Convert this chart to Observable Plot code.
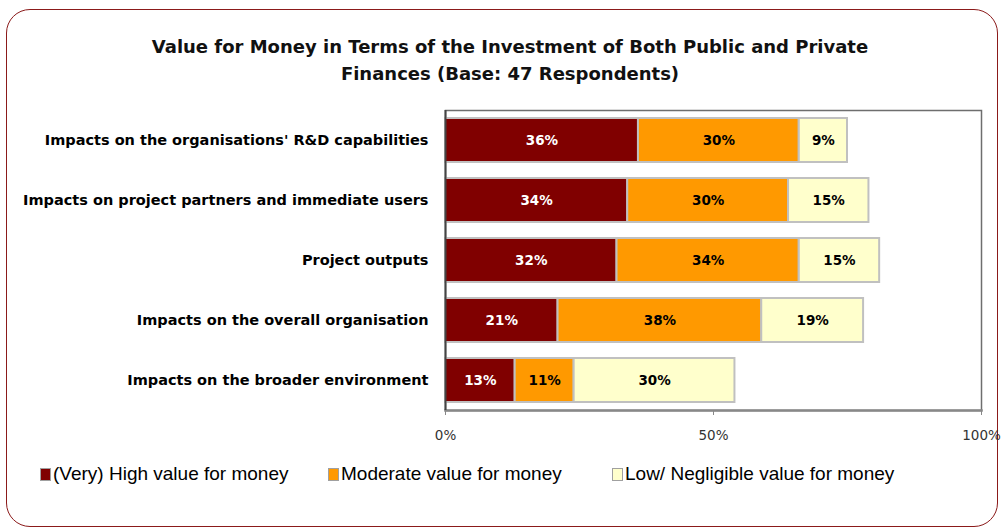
<!DOCTYPE html>
<html>
<head>
<meta charset="utf-8">
<script src="https://cdn.jsdelivr.net/npm/d3@7"></script>
<script src="https://cdn.jsdelivr.net/npm/@observablehq/plot@0.6"></script>
<style>
  body { margin: 0; background: #fff; }
  #wrap { position: relative; width: 1003px; height: 532px; overflow: hidden; font-family: "DejaVu Sans", sans-serif; }
  #border { position: absolute; left: 6px; top: 9px; width: 992px; height: 518px; border: 1.5px solid #8B1A1A; border-radius: 24px; box-sizing: border-box; }
  #title { position: absolute; left: 0; width: 1020px; top: 33px; text-align: center; font-weight: bold; font-size: 18px; line-height: 27px; color: #111; }
  #chart { position: absolute; left: 0; top: 0; }
  #legend { position: absolute; top: 463px; left: 0; width: 1003px; height: 24px; font-family: "Liberation Sans", Arial, sans-serif; font-size: 19px; color: #000; }
  .item { position: absolute; top: 0; display: flex; align-items: center; }
  .sw { width: 9px; height: 11px; border: 1.5px solid #a0a0a0; margin-right: 2px; }
</style>
</head>
<body>
<div id="wrap">
  <div id="border"></div>
  <div id="title">Value for Money in Terms of the Investment of Both Public and Private<br>Finances (Base: 47 Respondents)</div>
  <div id="chart"></div>
  <div id="legend"></div>
</div>
<script>
const categories = [
  "Impacts on the organisations' R&D capabilities",
  "Impacts on project partners and immediate users",
  "Project outputs",
  "Impacts on the overall organisation",
  "Impacts on the broader environment"
];
const seriesNames = ["(Very) High value for money", "Moderate value for money", "Low/ Negligible value for money"];
const seriesColors = ["#800000", "#FF9900", "#FFFFCC"];
const labelColors = ["#ffffff", "#000000", "#000000"];
const high = [36, 34, 32, 21, 13];
const moderate = [30, 30, 34, 38, 11];
const low = [9, 15, 15, 19, 30];
const xTicks = [0, 50, 100];
const xTickLabels = ["0%", "50%", "100%"];

const series = [high, moderate, low];
const data = [];
categories.forEach((c, i) => {
  series.forEach((s, j) => {
    data.push({cat: c, series: seriesNames[j], order: j, value: s[i]});
  });
});

const chart = Plot.plot({
  width: 1003,
  height: 532,
  marginLeft: 445,
  marginRight: 22,
  marginTop: 110,
  marginBottom: 122,
  style: {background: "transparent", fontFamily: "DejaVu Sans, sans-serif"},
  x: {domain: [0, 100], ticks: xTicks, tickFormat: (d) => xTickLabels[xTicks.indexOf(d)]},
  y: {domain: categories, paddingInner: 0.27, paddingOuter: 0.135},
  color: {domain: seriesNames, range: seriesColors},
  marks: [
    Plot.frame({stroke: "#6e6e6e", strokeWidth: 1.5}),
    Plot.barX(data, Plot.stackX({
      x: "value", y: "cat", fill: "series", order: "order",
      stroke: "#c0c0c0", strokeWidth: 2
    })),
    Plot.text(data, Plot.stackX({
      x: "value", y: "cat", z: "series", order: "order",
      text: (d) => d.value + "%",
      fill: (d) => labelColors[d.order],
      fontWeight: "bold", fontSize: 13.5
    })),
    Plot.axisX({
      ticks: xTicks, tickFormat: (d) => xTickLabels[xTicks.indexOf(d)],
      tickSize: 5, tickPadding: 15, fontSize: 13.5, color: "#333", stroke: "#888", label: null
    }),
    Plot.axisY({
      tickSize: 0, tickPadding: 17, fontSize: 14.5, fontWeight: "bold", color: "#000", label: null
    }),
    Plot.frame({anchor: "bottom", stroke: "#888", strokeWidth: 2.5}),
    Plot.ruleX([0], {stroke: "#444", strokeWidth: 2})
  ]
});
document.getElementById("chart").appendChild(chart);

// legend
const legend = document.getElementById("legend");
const lx = [40, 328, 612];
seriesNames.forEach((n, i) => {
  const it = document.createElement("div");
  it.className = "item";
  it.style.left = lx[i] + "px";
  const sw = document.createElement("div");
  sw.className = "sw";
  sw.style.background = seriesColors[i];
  const t = document.createElement("span");
  t.textContent = n;
  it.appendChild(sw);
  it.appendChild(t);
  legend.appendChild(it);
});
</script>
</body>
</html>
